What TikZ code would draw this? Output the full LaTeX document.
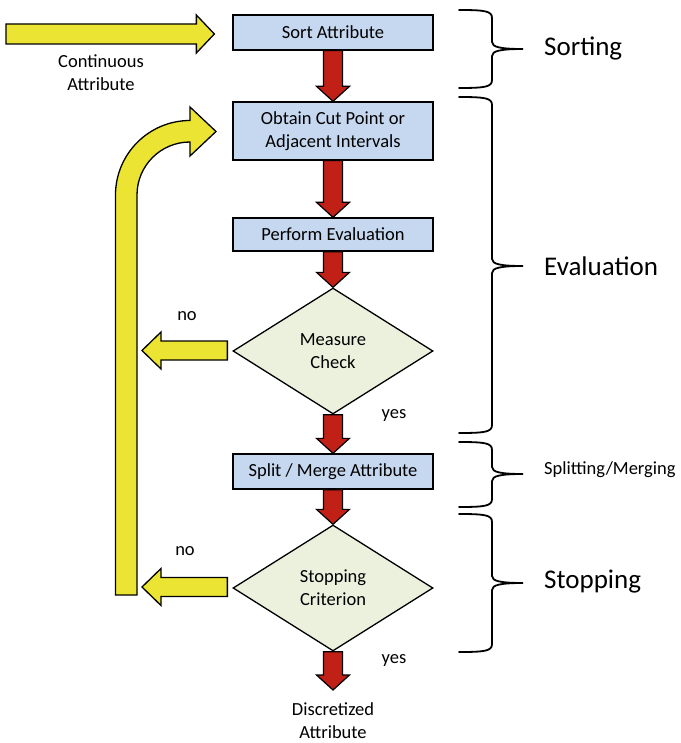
\documentclass[tikz,border=0pt]{standalone}
\usepackage{fontspec}
\setmainfont{Carlito}
\usetikzlibrary{shapes.geometric,calc}

\definecolor{boxblue}{RGB}{198,216,240}
\definecolor{diagreen}{RGB}{236,241,222}
\definecolor{arrred}{RGB}{192,32,22}
\definecolor{arryel}{RGB}{236,228,50}

\newcommand\redblockarrow[2]{%
  \draw[redarr] let \p1=(#1), \p2=(#2) in
    (\x1-9.5pt,\y1) -- (\x1-9.5pt,\y2+15pt) -- (\x1-16.5pt,\y2+15pt) -- (\x1,\y2)
    -- (\x1+16.5pt,\y2+15pt) -- (\x1+9.5pt,\y2+15pt) -- (\x1+9.5pt,\y1) -- cycle;}

\newcommand\yelleftarrow[2]{%
  \draw[yelarr] let \p1=(#1), \p2=(#2) in
    (\x1,\y1+9.5pt) -- (\x2+19pt,\y1+9.5pt) -- (\x2+19pt,\y1+18.5pt) -- (\x2,\y1)
    -- (\x2+19pt,\y1-18.5pt) -- (\x2+19pt,\y1-9.5pt) -- (\x1,\y1-9.5pt) -- cycle;}

\newcommand\phasebrace[3]{%
  \draw[bracestyle] (459,#1) .. controls (485,#1) and (492,#1+1) .. (492,#1+8)
    -- (492,#3-7) .. controls (492,#3-2) and (500,#3) .. (523,#3)
    .. controls (500,#3) and (492,#3+2) .. (492,#3+7)
    -- (492,#2-8) .. controls (492,#2-1) and (485,#2) .. (459,#2);}

\begin{document}
\begin{tikzpicture}[x=1pt,y=-1pt,line join=miter,
  procbox/.style={draw=black,line width=1.3pt,fill=boxblue,minimum width=200pt,
    inner sep=0pt,font=\fontsize{18.5}{23}\selectfont,align=center},
  decision/.style={diamond,draw=black,line width=1.3pt,fill=diagreen,minimum width=200pt,
    minimum height=126pt,inner sep=0pt,aspect=1.59,font=\fontsize{18.5}{23}\selectfont,align=center},
  redarr/.style={draw=black,line width=1.2pt,fill=arrred},
  yelarr/.style={draw=black,line width=1.3pt,fill=arryel},
  lbl/.style={font=\fontsize{18.5}{23}\selectfont,align=center,inner sep=0pt},
  phase/.style={font=\fontsize{27}{30}\selectfont,anchor=west,inner sep=0pt},
  phasesmall/.style={font=\fontsize{18.5}{22}\selectfont,anchor=west,inner sep=0pt},
  bracestyle/.style={line width=1.8pt,line cap=round}]
\useasboundingbox (0,0) rectangle (680,743);

% process nodes
\node[procbox,minimum height=35pt] (sort) at (333,32.5) {Sort Attribute};
\node[procbox,minimum height=58pt] (cut) at (333,131) {Obtain Cut Point or\\Adjacent Intervals};
\node[procbox,minimum height=33pt] (eval) at (333,234.5) {Perform Evaluation};
\node[decision] (measure) at (333,351) {Measure\\Check};
\node[procbox,minimum height=35pt] (split) at (333,471.5) {Split / Merge Attribute};
\node[decision] (stop) at (333,588) {Stopping\\Criterion};
\node[lbl] (out) at (333,721) {Discretized\\Attribute};

% red block arrows
\redblockarrow{sort.south}{cut.north}
\redblockarrow{cut.south}{eval.north}
\redblockarrow{eval.south}{measure.north}
\redblockarrow{measure.south}{split.north}
\redblockarrow{split.south}{stop.north}
\coordinate (outtip) at (333,690);
\redblockarrow{stop.south}{outtip}

% yellow input arrow
\coordinate (instart) at (6,34);
\coordinate (intip) at ($(sort.west)+(-18,1.5)$);
\draw[yelarr] let \p1=(instart), \p2=(intip) in
  (\x1,\y2+10pt) -- (\x2-18pt,\y2+10pt) -- (\x2-18pt,\y2+19pt) -- (\x2,\y2)
  -- (\x2-18pt,\y2-19pt) -- (\x2-18pt,\y2-10pt) -- (\x1,\y2-10pt) -- cycle;
\node[lbl] (contlbl) at (101,72.5) {Continuous\\Attribute};

% loop back arrow
\draw[yelarr] (115.5,595) -- (115.5,195)
  .. controls (115.5,153.9) and (148.9,120.5) .. (190,120.5)
  -- (190,107) -- (216,131.5) -- (190,156) -- (190,142)
  .. controls (160.7,142) and (137,165.7) .. (137,195)
  -- (137,595) -- cycle;

% "no" arrows
\coordinate (mstart) at ($(measure.west)+(-5,-0.5)$);
\coordinate (mtip) at (142,350.5);
\yelleftarrow{mstart}{mtip}
\coordinate (sstart) at ($(stop.west)+(-5,-1)$);
\coordinate (stip) at (142,587);
\yelleftarrow{sstart}{stip}

% labels
\node[lbl] (no1) at (187,316) {no};
\node[lbl] (yes1) at (394,416) {yes};
\node[lbl] (no2) at (185,551) {no};
\node[lbl] (yes2) at (394,660) {yes};

% phase braces
\phasebrace{10}{88}{49}
\phasebrace{97}{433}{266}
\phasebrace{442}{507}{474}
\phasebrace{514}{652}{583}
\node[phase] (psort) at (544,48) {Sorting};
\node[phase] (peval) at (544,266) {Evaluation};
\node[phasesmall] (psplit) at (544,470) {Splitting/Merging};
\node[phase] (pstop) at (544,582) {Stopping};
\end{tikzpicture}
\end{document}
